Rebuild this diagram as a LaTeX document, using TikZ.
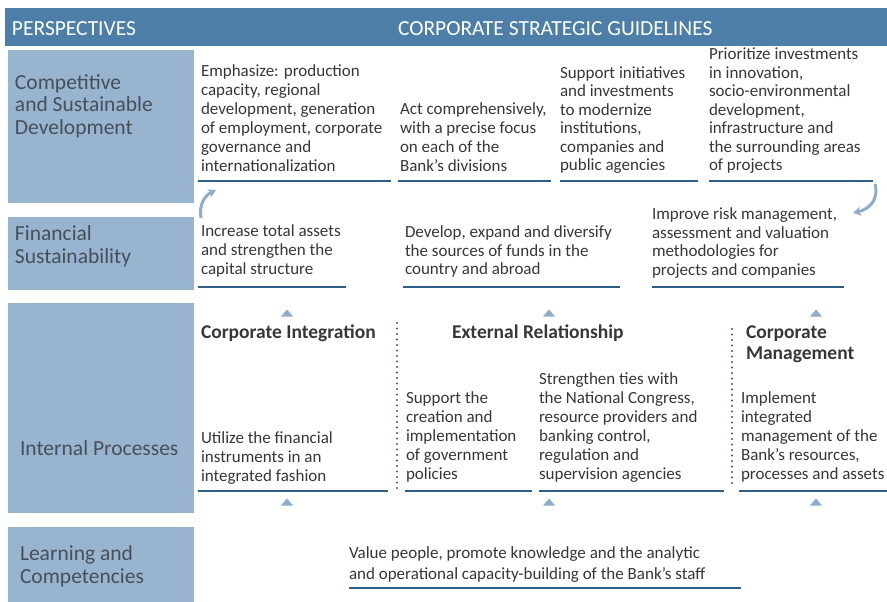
\documentclass[tikz,border=0pt]{standalone}
\usepackage{fontspec}
\setmainfont{Carlito}
\usetikzlibrary{arrows.meta}
\definecolor{hdrcol}{RGB}{77,126,167}
\definecolor{panelcol}{RGB}{152,180,206}
\definecolor{ptxt}{RGB}{70,80,92}
\definecolor{bodytxt}{RGB}{55,55,55}
\definecolor{ulcol}{RGB}{47,94,136}
\definecolor{lightcol}{RGB}{140,173,203}
\definecolor{dotcol}{RGB}{55,92,130}
\newcommand\gfont{\fontsize{17}{19}\selectfont}
\newcommand\gfonttight{\fontsize{17}{18.5}\selectfont}
\newcommand\lfont{\fontsize{21.5}{23}\selectfont}
\newcommand\hdfont{\fontsize{19.5}{21}\selectfont\bfseries}
\newcommand\uptri[2]{\fill[tri] (#1-6,-#2-3.5) -- (#1+6,-#2-3.5) -- (#1,-#2+3.5) -- cycle;}
\begin{document}
\begin{tikzpicture}[x=1pt,y=1pt,
  gl/.style={anchor=south west, inner sep=0pt, outer sep=0pt, align=left, font=\gfont, text=bodytxt, execute at end node=\strut},
  gltight/.style={gl, font=\gfonttight},
  plabel/.style={gl, font=\lfont, text=ptxt},
  headg/.style={anchor=base west, inner sep=0pt, outer sep=0pt, font=\hdfont, text=bodytxt},
  headm/.style={gl, font=\hdfont},
  htext/.style={anchor=base west, inner sep=0pt, outer sep=0pt, font=\fontsize{21.5}{24}\selectfont, text=white},
  uline/.style={draw=ulcol, line width=2pt},
  tri/.style={fill=lightcol},
  dotline/.style={draw=dotcol, line width=2.4pt, line cap=round, dash pattern=on 0pt off 5.5pt},
  curv/.style={draw=lightcol, line width=3pt, -{Stealth[length=8pt,width=9pt]}}
]
\useasboundingbox (0,0) rectangle (887,-602);
\fill[white] (0,0) rectangle (887,-602);
% header
\fill[hdrcol] (5,-8) rectangle (887,-46);
\node[htext] (hp) at (12,-35.4) {PERSPECTIVES};
\node[htext] (hg) at (398,-35.4) {CORPORATE STRATEGIC GUIDELINES};
% left panels
\fill[panelcol] (8,-50) rectangle (194,-203);
\fill[panelcol] (8,-217) rectangle (194,-290);
\fill[panelcol] (8,-303) rectangle (194,-513);
\fill[panelcol] (8,-527) rectangle (194,-602);
\node[plabel] (p1) at (15,-141.9) {Competitive\\and Sustainable\\Development};
\node[plabel] (p2) at (15,-269.9) {Financial\\Sustainability};
\node[plabel] (p3) at (20,-461.9) {Internal Processes};
\node[plabel] (p4) at (20,-589.9) {Learning and\\Competencies};
% row 1
\node[gl] (a) at (201,-176.7) {Emphasize: production\\capacity, regional\\development, generation\\of employment, corporate\\governance and\\internationalization};
\node[gl] (b) at (400,-176.7) {Act comprehensively,\\with a precise focus\\on each of the\\Bank's divisions};
\node[gltight] (c) at (560,-176.5) {Support initiatives\\and investments\\to modernize\\institutions,\\companies and\\public agencies};
\node[gltight] (d) at (709,-176.5) {Prioritize investments\\in innovation,\\socio-environmental\\development,\\infrastructure and\\the surrounding areas\\of projects};
\draw[uline] (198,-181) -- (391,-181);
\draw[uline] (398,-181) -- (551,-181);
\draw[uline] (560,-181) -- (698,-181);
\draw[uline] (709,-181) -- (873,-181);
% row 2
\node[gl] (e) at (201,-280.5) {Increase total assets\\and strengthen the\\capital structure};
\node[gltight] (f) at (405,-280.5) {Develop, expand and diversify\\the sources of funds in the\\country and abroad};
\node[gltight] (g) at (652,-281) {Improve risk management,\\assessment and valuation\\methodologies for\\projects and companies};
\draw[uline] (198,-287) -- (346,-287);
\draw[uline] (403,-287) -- (620,-287);
\draw[uline] (652,-287) -- (844,-287);
% curved arrows
\coordinate (la1) at (201,-218);
\coordinate (la2) at (216,-190);
\draw[curv] (la1) .. controls (199,-205) and (204,-196) .. (la2);
\coordinate (ra1) at (875,-184);
\coordinate (ra2) at (853,-213);
\draw[curv] (ra1) .. controls (879,-199) and (870,-209) .. (ra2);
% row 3
\uptri{287}{313}
\uptri{549}{313}
\uptri{816}{313}
\node[headg] (h1) at (201,-338.5) {Corporate Integration};
\node[headg] (h2) at (452,-338.5) {External Relationship};
\node[headm] (h3) at (746,-365.8) {Corporate\\Management};
\draw[dotline] (397,-323) -- (397,-488);
\draw[dotline] (732,-329) -- (732,-488);
\node[gl] (hh) at (201,-486.7) {Utilize the financial\\instruments in an\\integrated fashion};
\node[gl] (i) at (406,-484.7) {Support the\\creation and\\implementation\\of government\\policies};
\node[gl] (j) at (539,-484.7) {Strengthen ties with\\the National Congress,\\resource providers and\\banking control,\\regulation and\\supervision agencies};
\node[gl] (k) at (741,-484.7) {Implement\\integrated\\management of the\\Bank's resources,\\processes and assets};
\draw[uline] (198,-491) -- (388,-491);
\draw[uline] (405,-491) -- (532,-491);
\draw[uline] (539,-491) -- (724,-491);
\draw[uline] (739,-491) -- (887,-491);
\uptri{287}{502}
\uptri{549}{502}
\uptri{816}{502}
% row 4
\node[gl, font=\fontsize{17}{21}\selectfont] (l) at (349,-585.3) {Value people, promote knowledge and the analytic\\and operational capacity-building of the Bank's staff};
\draw[uline] (349,-588) -- (741,-588);
\end{tikzpicture}
\end{document}
